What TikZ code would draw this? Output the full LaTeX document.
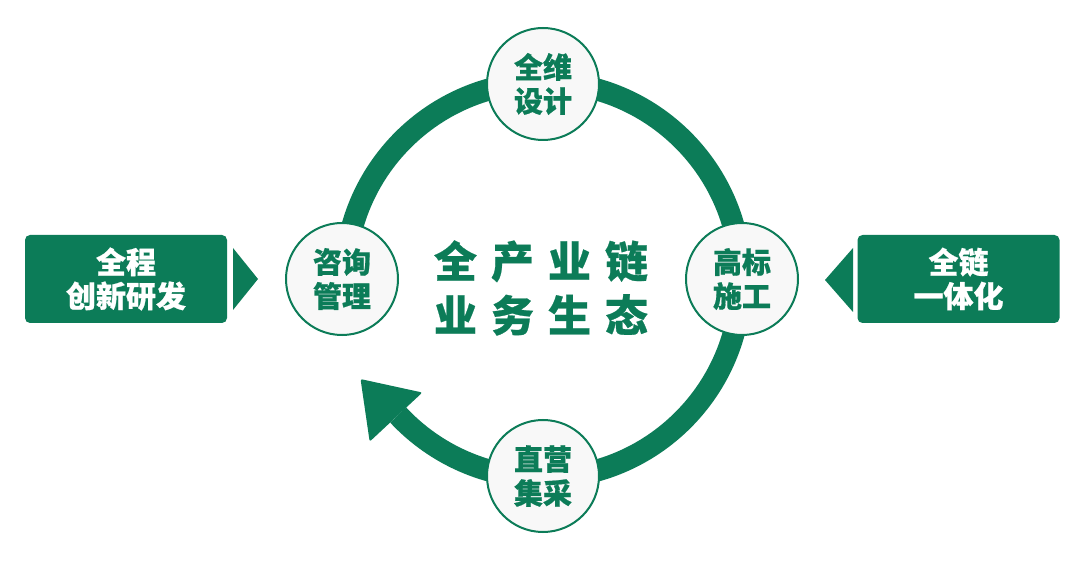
\documentclass[tikz,border=0pt]{standalone}
\usepackage{fontspec}
\newfontfamily\cjk[BoldFeatures={FakeBold=0.6}]{Noto Sans CJK SC}
\usetikzlibrary{calc}
\definecolor{gr}{RGB}{12,124,88}
\definecolor{cfill}{RGB}{248,248,248}
\begin{document}
\begin{tikzpicture}[x=1pt,y=-1pt,
  stage/.style={circle,draw=gr,line width=2pt,fill=cfill,minimum size=112pt,inner sep=0pt,
    text=gr,align=center,font=\cjk\bfseries\fontsize{29}{34}\selectfont},
  sidebox/.style={rectangle,rounded corners=5pt,fill=gr,text=white,minimum width=202pt,minimum height=88pt,
    inner sep=0pt,align=center,font=\cjk\bfseries\fontsize{30}{34}\selectfont},
  ring/.style={draw=gr,line width=22pt},
  tri/.style={fill=gr}]
\useasboundingbox (0,0) rectangle (1080,561);
\fill[white] (0,0) rectangle (1080,561);
\coordinate (ctr) at (543,280);
% ring
\draw[ring] ($(ctr)+(180:198)$) arc[start angle=180,end angle=497,radius=198];
\coordinate (ah) at ($(ctr)+(137:201)$);
\coordinate (ahtip) at ($(ah)+(227:52)$);
\coordinate (aha) at ($(ah)+(137:36)$);
\coordinate (ahb) at ($(ah)+(317:36)$);
\fill[gr,rounded corners=2pt] (aha) -- (ahtip) -- (ahb) -- cycle;
% stages
\node[stage] (top) at (543,84) {全维\\设计};
\node[stage] (left) at (342,279) {咨询\\管理};
\node[stage] (right) at (742,279) {高标\\施工};
\node[stage] (bottom) at (543,476) {直营\\集采};
% centre text
\node[text=gr,align=center,font=\cjk\bfseries\fontsize{43}{54}\selectfont] (core) at (541,288)
  {全\kern14pt 产\kern14pt 业\kern14pt 链\\业\kern14pt 务\kern14pt 生\kern14pt 态};
% side boxes
\node[sidebox] (lbox) at (126,279) {全程\\创新研发};
\node[sidebox] (rbox) at (958.5,279) {全链\\一体化};
\fill[tri] (233,248) -- (258,279) -- (233,310) -- cycle;
\fill[tri] (853,248) -- (825,280) -- (853,312) -- cycle;
\end{tikzpicture}
\end{document}
